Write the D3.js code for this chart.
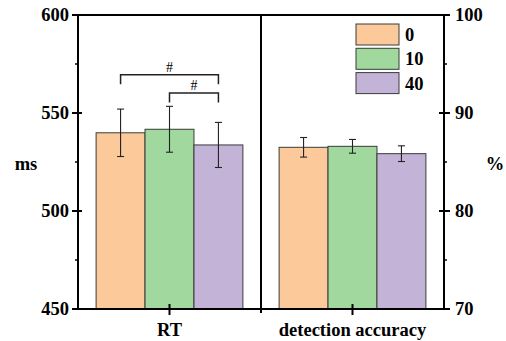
<!DOCTYPE html>
<meta charset="utf-8">
<html>
<head>
<script src="https://cdn.jsdelivr.net/npm/d3@7"></script>
<style>
  body { margin: 0; background: #fff; }
</style>
</head>
<body>
<script>
  // data
  var categories = ["RT", "detection accuracy"];
  var groups = ["0", "10", "40"];
  var colors = ["#fcc99b", "#a0d89e", "#c3b3d7"];
  var rtMeans = [539.9, 541.7, 533.7];
  var rtErr = [12.1, 11.7, 11.5];
  var accMeans = [86.5, 86.6, 85.85];
  var accErr = [1.0, 0.7, 0.8];
  var leftTicks = [450, 500, 550, 600];
  var rightTicks = [70, 80, 90, 100];
  // significance brackets on RT (value = height of the bracket in ms)
  var brackets = [
    { from: "0", to: "40", value: 569.5, label: "#" },
    { from: "10", to: "40", value: 560.2, label: "#" }
  ];

  var W = 506, H = 341;
  var pLeft = 78, pRight = 444, pTop = 15, pBottom = 309;
  var FONT = "'Liberation Serif', 'Times New Roman', Times, serif";
  var FS = 18.5;

  var svg = d3.select("body").append("svg")
      .attr("width", W)
      .attr("height", H)
      .attr("font-family", FONT)
      .attr("font-weight", "bold")
      .attr("fill", "#000");

  var x = d3.scaleBand().domain(categories).range([pLeft, pRight]).padding(0);
  var xi = d3.scaleBand().domain(groups).range([0, x.bandwidth()])
      .paddingInner(0).paddingOuter(0.37);

  var yL = d3.scaleLinear().domain([450, 600]).range([pBottom, pTop]);
  var yR = d3.scaleLinear().domain([70, 100]).range([pBottom, pTop]);

  var panels = [
    { cat: "RT", y: yL, means: rtMeans, err: rtErr },
    { cat: "detection accuracy", y: yR, means: accMeans, err: accErr }
  ];

  // bars
  panels.forEach(function(p) {
    var g = svg.append("g").attr("transform", "translate(" + x(p.cat) + ",0)");
    g.selectAll("rect").data(groups).enter().append("rect")
        .attr("x", function(d) { return xi(d); })
        .attr("y", function(d, i) { return p.y(p.means[i]); })
        .attr("width", xi.bandwidth())
        .attr("height", function(d, i) { return pBottom - p.y(p.means[i]); })
        .attr("fill", function(d, i) { return colors[i]; })
        .attr("stroke", "#3a3a3a")
        .attr("stroke-width", 1);

    var eb = g.selectAll(".eb").data(groups).enter().append("g").attr("class", "eb")
        .attr("stroke", "#222").attr("stroke-width", 1.1);
    eb.append("line")
        .attr("x1", function(d) { return xi(d) + xi.bandwidth() / 2; })
        .attr("x2", function(d) { return xi(d) + xi.bandwidth() / 2; })
        .attr("y1", function(d, i) { return p.y(p.means[i] + p.err[i]); })
        .attr("y2", function(d, i) { return p.y(p.means[i] - p.err[i]); });
    [1, -1].forEach(function(s) {
      eb.append("line")
          .attr("x1", function(d) { return xi(d) + xi.bandwidth() / 2 - 3.5; })
          .attr("x2", function(d) { return xi(d) + xi.bandwidth() / 2 + 3.5; })
          .attr("y1", function(d, i) { return p.y(p.means[i] + s * p.err[i]); })
          .attr("y2", function(d, i) { return p.y(p.means[i] + s * p.err[i]); });
    });
  });

  // brackets
  var bx = function(d) { return x("RT") + xi(d) + xi.bandwidth() / 2; };
  brackets.forEach(function(b) {
    var yy = yL(b.value);
    svg.append("path")
        .attr("d", "M" + bx(b.from) + "," + (yy + 9.5) + "V" + yy + "H" + bx(b.to) + "V" + (yy + 9.5))
        .attr("fill", "none").attr("stroke", "#222").attr("stroke-width", 1.5);
    svg.append("text")
        .attr("x", (bx(b.from) + bx(b.to)) / 2)
        .attr("y", yy - 3)
        .attr("text-anchor", "middle")
        .attr("font-weight", "normal")
        .attr("font-size", 14)
        .text(b.label);
  });

  // frame
  var ax = svg.append("g").attr("stroke", "#000").attr("stroke-width", 2).attr("fill", "none");
  ax.append("line").attr("x1", pLeft).attr("x2", pRight).attr("y1", pTop).attr("y2", pTop);
  ax.append("line").attr("x1", pLeft).attr("x2", pRight + 2).attr("y1", pBottom).attr("y2", pBottom);
  ax.append("line").attr("x1", pLeft).attr("x2", pLeft).attr("y1", pTop).attr("y2", pBottom);
  ax.append("line").attr("x1", pRight).attr("x2", pRight).attr("y1", pTop).attr("y2", pBottom);
  ax.append("line").attr("x1", x(categories[1])).attr("x2", x(categories[1]))
      .attr("y1", pTop).attr("y2", pBottom + 4);

  // left axis ticks
  var leftAxis = svg.append("g");
  leftAxis.selectAll(".maj").data(leftTicks).enter().append("line")
      .attr("x1", pLeft - 6).attr("x2", pLeft + 4)
      .attr("y1", function(d) { return yL(d); }).attr("y2", function(d) { return yL(d); })
      .attr("stroke", "#000").attr("stroke-width", 2);
  leftAxis.selectAll(".min").data(leftTicks.slice(1)).enter().append("line")
      .attr("x1", pLeft - 3).attr("x2", pLeft)
      .attr("y1", function(d) { return yL(d - 25); }).attr("y2", function(d) { return yL(d - 25); })
      .attr("stroke", "#000").attr("stroke-width", 1.5);
  leftAxis.selectAll("text").data(leftTicks).enter().append("text")
      .attr("x", pLeft - 9).attr("y", function(d) { return yL(d) + 6; })
      .attr("text-anchor", "end").attr("font-size", FS)
      .attr("font-weight", "bold").attr("fill", "#000")
      .text(function(d) { return d; });

  // right axis ticks
  var rightAxis = svg.append("g");
  rightAxis.selectAll(".maj").data(rightTicks).enter().append("line")
      .attr("x1", pRight - 5).attr("x2", pRight + 6)
      .attr("y1", function(d) { return yR(d); }).attr("y2", function(d) { return yR(d); })
      .attr("stroke", "#000").attr("stroke-width", 2);
  rightAxis.selectAll(".min").data(rightTicks.slice(1)).enter().append("line")
      .attr("x1", pRight).attr("x2", pRight + 3)
      .attr("y1", function(d) { return yR(d - 5); }).attr("y2", function(d) { return yR(d - 5); })
      .attr("stroke", "#000").attr("stroke-width", 1.5);
  rightAxis.selectAll("text").data(rightTicks).enter().append("text")
      .attr("x", pRight + 11).attr("y", function(d) { return yR(d) + 6; })
      .attr("text-anchor", "start").attr("font-size", FS)
      .attr("font-weight", "bold").attr("fill", "#000")
      .text(function(d) { return d; });

  // bottom ticks and category labels
  svg.selectAll(".xt").data(categories).enter().append("line")
      .attr("x1", function(d) { return x(d) + x.bandwidth() / 2; })
      .attr("x2", function(d) { return x(d) + x.bandwidth() / 2; })
      .attr("y1", pBottom - 5).attr("y2", pBottom + 6)
      .attr("stroke", "#000").attr("stroke-width", 2);
  svg.selectAll(".xl").data(categories).enter().append("text")
      .attr("x", function(d) { return x(d) + x.bandwidth() / 2; })
      .attr("y", 336)
      .attr("text-anchor", "middle").attr("font-size", FS)
      .text(function(d) { return d; });

  // axis titles
  svg.append("text").attr("x", 26).attr("y", 169.5).attr("text-anchor", "middle")
      .attr("font-size", FS).text("ms");
  svg.append("text").attr("x", 495).attr("y", 169.5).attr("text-anchor", "middle")
      .attr("font-size", FS).text("%");

  // legend
  var lg = svg.append("g").attr("transform", "translate(356,24)");
  var li = lg.selectAll("g").data(groups).enter().append("g")
      .attr("transform", function(d, i) { return "translate(0," + (i * 24.3) + ")"; });
  li.append("rect").attr("width", 43).attr("height", 21)
      .attr("fill", function(d, i) { return colors[i]; })
      .attr("stroke", "#3a3a3a").attr("stroke-width", 1);
  li.append("text").attr("x", 49).attr("y", 17).attr("font-size", FS)
      .attr("fill", "#000")
      .text(function(d) { return d; });
</script>
</body>
</html>
